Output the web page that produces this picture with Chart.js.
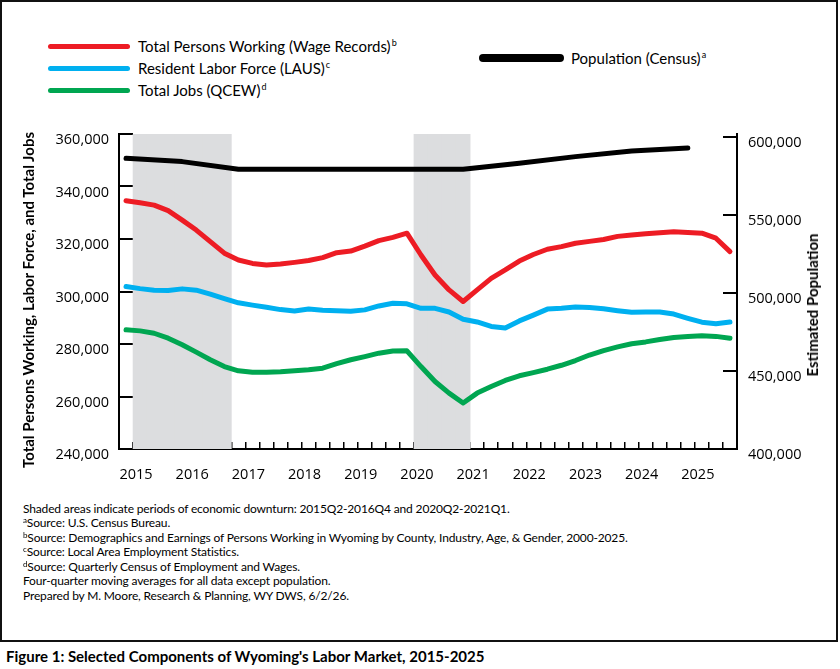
<!DOCTYPE html>
<html lang="en">
<head>
<meta charset="UTF-8">
<title>Figure 1: Selected Components of Wyoming's Labor Market, 2015-2025</title>
<script src="https://cdn.jsdelivr.net/npm/chart.js"></script>
<style>
    body { margin: 0; background: #fff; color: #000; font-family: Lato, "Open Sans", sans-serif; }
    #page { position: relative; width: 840px; height: 669px; overflow: hidden; }
    #frame { position: absolute; left: 0; top: 0; width: 838px; height: 642px; box-sizing: border-box; border: 2px solid #111; }
    #chartBox { position: absolute; left: 0; top: 110px; width: 838px; height: 380px; }
    .leg-item { position: absolute; height: 20px; display: flex; align-items: center; font-size: 15px; white-space: nowrap; }
    .leg-line { width: 82px; height: 5px; border-radius: 3px; margin-right: 8px; }
    .slot0 { left: 48px; top: 36px; }
    .slot1 { left: 48px; top: 58px; }
    .slot2 { left: 48px; top: 80px; }
    .slot3 { left: 479px; top: 48px; }
    .slot3 .leg-line { width: 85px; height: 8px; border-radius: 4px; margin-right: 7px; }
    sup { font-size: 8px; line-height: 0; position: relative; top: -4px; vertical-align: baseline; }
    .leg-item sup { font-size: 9px; top: -6px; margin-left: 1px; }
    .ytitle { position: absolute; transform: translate(-50%, -50%) rotate(-90deg); white-space: nowrap; font-weight: bold; font-size: 15px; }
    #notes { position: absolute; left: 23px; top: 502px; font-size: 12px; letter-spacing: -0.15px; line-height: 14.45px; }
    #notes div { white-space: nowrap; }
    #figTitle { position: absolute; left: 6px; top: 647px; font-weight: bold; font-size: 15px; white-space: nowrap; }
</style>
</head>
<body>
<div id="page">
    <div id="frame"></div>
    <div id="legend"></div>
    <div id="chartBox"><canvas id="laborChart"></canvas></div>
    <div class="ytitle" style="left:28px; top:300px;">Total Persons Working, Labor Force, and Total Jobs</div>
    <div class="ytitle" style="left:812px; top:305px;">Estimated Population</div>
    <div id="notes">
        <div>Shaded areas indicate periods of economic downturn: 2015Q2-2016Q4 and 2020Q2-2021Q1.</div>
        <div><sup>a</sup>Source: U.S. Census Bureau.</div>
        <div><sup>b</sup>Source: Demographics and Earnings of Persons Working in Wyoming by County, Industry, Age, &amp; Gender, 2000-2025.</div>
        <div><sup>c</sup>Source: Local Area Employment Statistics.</div>
        <div><sup>d</sup>Source: Quarterly Census of Employment and Wages.</div>
        <div>Four-quarter moving averages for all data except population.</div>
        <div>Prepared by M. Moore, Research &amp; Planning, WY DWS, 6/2/26.</div>
    </div>
    <div id="figTitle">Figure 1: Selected Components of Wyoming's Labor Market, 2015-2025</div>
</div>
<script>
    // quarters on the x axis
    const quarters = [
        '2015Q1', '2015Q2', '2015Q3', '2015Q4', '2016Q1', '2016Q2', '2016Q3', '2016Q4',
        '2017Q1', '2017Q2', '2017Q3', '2017Q4', '2018Q1', '2018Q2', '2018Q3', '2018Q4',
        '2019Q1', '2019Q2', '2019Q3', '2019Q4', '2020Q1', '2020Q2', '2020Q3', '2020Q4',
        '2021Q1', '2021Q2', '2021Q3', '2021Q4', '2022Q1', '2022Q2', '2022Q3', '2022Q4',
        '2023Q1', '2023Q2', '2023Q3', '2023Q4', '2024Q1', '2024Q2', '2024Q3', '2024Q4',
        '2025Q1', '2025Q2', '2025Q3', '2025Q4'
    ];

    // four-quarter moving averages (left axis)
    const wageRecords = [
        334600, 333800, 332900, 330800, 327200, 323400, 319000, 314600,
        312000, 310700, 310100, 310500, 311100, 311800, 312900, 314800,
        315400, 317300, 319400, 320600, 322200, 313900, 306300, 300600,
        296200, 300600, 305000, 308200, 311600, 314100, 316100, 317100,
        318400, 319100, 319800, 321000, 321500, 322000, 322400, 322800,
        322500, 322200, 320300, 315200
    ];
    const laborForce = [
        301900, 301100, 300500, 300400, 301000, 300500, 299000, 297300,
        295700, 294800, 294000, 293100, 292600, 293300, 292900, 292700,
        292500, 293000, 294500, 295500, 295300, 293600, 293600, 292200,
        289400, 288400, 286700, 286100, 288800, 291000, 293300, 293600,
        294100, 293900, 293400, 292700, 292100, 292200, 292200, 291400,
        289800, 288300, 287700, 288400
    ];
    const totalJobs = [
        285400, 285000, 284100, 282200, 279700, 276900, 274000, 271400,
        269800, 269200, 269200, 269400, 269800, 270200, 270800, 272500,
        274000, 275200, 276500, 277300, 277400, 271400, 265700, 261300,
        257500, 261300, 263800, 266100, 267900, 269100, 270400, 271900,
        273700, 275800, 277500, 278900, 280100, 280800, 281700, 282500,
        282900, 283100, 282900, 282200
    ];

    // annual population estimates (right axis)
    const popQuarters = ['2015Q1', '2016Q1', '2017Q1', '2018Q1', '2019Q1', '2020Q1', '2021Q1', '2022Q1', '2023Q1', '2024Q1', '2025Q1'];
    const population = [586300, 584200, 579300, 579300, 579300, 579300, 579300, 583100, 587400, 591000, 593000];

    // tick values for the right axis
    const popTicks = [400000, 450000, 500000, 550000, 600000];

    // economic downturns (shaded)
    const downturns = [['2015Q2', '2016Q4'], ['2020Q2', '2021Q1']];

    const seriesNames = ['Total Persons Working (Wage Records)', 'Resident Labor Force (LAUS)', 'Total Jobs (QCEW)', 'Population (Census)'];
    const seriesNotes = ['b', 'c', 'd', 'a'];
    const seriesColors = ['#ED1C24', '#00B0F0', '#00A651', '#000000'];

    const shade = quarters.map(q => downturns.some(d => q >= d[0] && q <= d[1]) ? 1 : null);

    const tickFont = { family: '"Open Sans"', size: 14.5 };

    function lineSet(i, data, axis) {
        return {
            type: 'line',
            label: seriesNames[i],
            data: data,
            yAxisID: axis,
            borderColor: seriesColors[i],
            backgroundColor: seriesColors[i],
            borderWidth: 5,
            pointRadius: 0,
            tension: 0,
            borderCapStyle: 'round',
            borderJoinStyle: 'round',
            order: 1
        };
    }

    // keep the label padding out of the chart area layout
    function fixWidth(w) {
        return s => { s.width = w; s.paddingTop = 0; s.paddingBottom = 0; };
    }

    const ctx = document.getElementById('laborChart').getContext('2d');
    const chart = new Chart(ctx, {
        data: {
            labels: quarters,
            datasets: [
                lineSet(0, wageRecords, 'y'),
                lineSet(1, laborForce, 'y'),
                lineSet(2, totalJobs, 'y'),
                lineSet(3, popQuarters.map((q, i) => ({ x: q, y: population[i] })), 'y2'),
                {
                    type: 'bar',
                    label: 'Downturn',
                    data: shade,
                    yAxisID: 'yShade',
                    backgroundColor: '#DCDDDF',
                    barPercentage: 1,
                    categoryPercentage: 1,
                    order: 10
                }
            ]
        },
        options: {
            responsive: true,
            maintainAspectRatio: false,
            animation: false,
            layout: { padding: { top: 24, bottom: 10, left: 0, right: 0 } },
            plugins: { legend: { display: false }, tooltip: { enabled: false } },
            scales: {
                x: {
                    type: 'category',
                    offset: true,
                    grid: { display: true, drawOnChartArea: false, offset: true, tickLength: -7, color: '#000', lineWidth: 1.5 },
                    border: { display: true, color: '#000', width: 2 },
                    ticks: {
                        autoSkip: false, maxRotation: 0, minRotation: 0,
                        padding: 24, labelOffset: 10, font: tickFont, color: '#000',
                        callback: function (v) {
                            const q = this.getLabelForValue(v);
                            return q.endsWith('Q1') ? q.slice(0, 4) : '';
                        }
                    },
                    afterFit: s => { s.height = 31; }
                },
                y: {
                    position: 'left',
                    min: 240000,
                    max: 360000,
                    grid: { drawOnChartArea: false, tickLength: -14, color: '#000', lineWidth: 2 },
                    border: { display: true, color: '#000', width: 2 },
                    ticks: { stepSize: 20000, padding: 24, labelOffset: 6, font: tickFont, color: '#000',
                        callback: v => v.toLocaleString('en-US') },
                    afterFit: fixWidth(119)
                },
                y2: {
                    position: 'right',
                    min: 400000,
                    max: 601900,
                    grid: { drawOnChartArea: false, tickLength: -14, color: '#000', lineWidth: 2 },
                    border: { display: true, color: '#000', width: 2 },
                    ticks: { padding: 25, labelOffset: 6, font: tickFont, color: '#000',
                        callback: v => v.toLocaleString('en-US') },
                    afterBuildTicks: s => { s.ticks = popTicks.map(v => ({ value: v })); },
                    afterFit: fixWidth(101)
                },
                yShade: { display: false, min: 0, max: 1 }
            }
        }
    });

    // legend in two columns, built from the line datasets
    const legendEl = document.getElementById('legend');
    chart.data.datasets.filter(d => d.type === 'line').forEach((d, i) => {
        const item = document.createElement('div');
        item.className = 'leg-item slot' + i;
        const line = document.createElement('span');
        line.className = 'leg-line';
        line.style.background = d.borderColor;
        const text = document.createElement('span');
        text.textContent = d.label;
        const sup = document.createElement('sup');
        sup.textContent = seriesNotes[i];
        text.appendChild(sup);
        item.appendChild(line);
        item.appendChild(text);
        legendEl.appendChild(item);
    });
</script>
</body>
</html>
